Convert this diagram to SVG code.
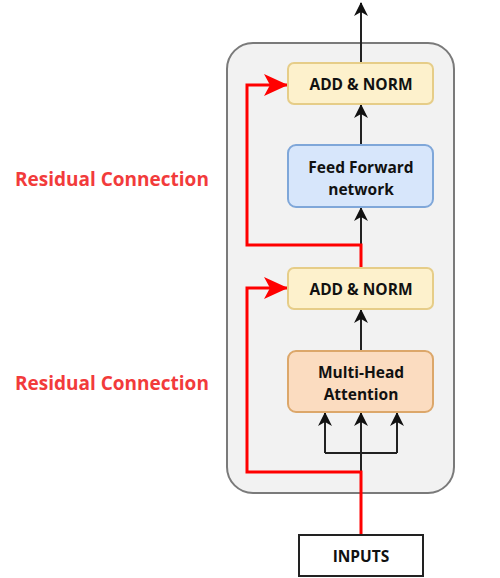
<svg xmlns="http://www.w3.org/2000/svg" width="500" height="578" viewBox="0 0 500 578">
  <style>
    .lbl { font-family: "Open Sans", "Liberation Sans", sans-serif; font-weight: 700; font-size: 15.5px; text-anchor: middle; fill: #111; }
    .res { font-family: "Open Sans", "Liberation Sans", sans-serif; font-weight: 700; font-size: 19px; fill: #f23b3b; }
    .blk { fill: none; stroke: #222; stroke-width: 2; }
    .red { fill: none; stroke: #ff0000; stroke-width: 3; }
  </style>
  <defs>
    <marker id="ah" viewBox="0 0 14 14" refX="13" refY="7" markerWidth="14" markerHeight="14" markerUnits="userSpaceOnUse" orient="auto">
      <path d="M0,0 L14,7 L0,14 L4,7 Z" fill="#111"/>
    </marker>
    <marker id="ahr" viewBox="0 0 24 24" refX="23" refY="12" markerWidth="24" markerHeight="24" markerUnits="userSpaceOnUse" orient="auto">
      <path d="M0,1 L24,12 L0,23 L6,12 Z" fill="#ff0000"/>
    </marker>
  </defs>

  <rect width="500" height="578" fill="#ffffff"/>

  <!-- encoder block container -->
  <rect id="block" x="227" y="43" width="227" height="450" rx="26" fill="#f2f2f2" stroke="#7a7a7a" stroke-width="2"/>

  <g id="connectors">
    <!-- main data path -->
    <line class="blk" x1="361" y1="63" x2="361" y2="3" marker-end="url(#ah)"/>
    <line class="blk" x1="361" y1="145" x2="361" y2="105" marker-end="url(#ah)"/>
    <line class="blk" x1="361" y1="245" x2="361" y2="208" marker-end="url(#ah)"/>
    <line class="blk" x1="361" y1="351" x2="361" y2="310" marker-end="url(#ah)"/>
    <!-- fan-out into attention (Q, K, V) -->
    <line class="blk" x1="361" y1="472" x2="361" y2="453"/>
    <line class="blk" x1="325" y1="453" x2="397" y2="453"/>
    <line class="blk" x1="325" y1="453" x2="325" y2="413" marker-end="url(#ah)"/>
    <line class="blk" x1="361" y1="453" x2="361" y2="413" marker-end="url(#ah)"/>
    <line class="blk" x1="397" y1="453" x2="397" y2="413" marker-end="url(#ah)"/>
    <!-- residual paths -->
    <polyline class="red" points="361,535 361,472 247,472 247,288 287,288" marker-end="url(#ahr)"/>
    <polyline class="red" points="361,268 361,245 247,245 247,85 287,85" marker-end="url(#ahr)"/>
  </g>

  <g id="add-norm-top">
    <rect x="288" y="63" width="145" height="41" rx="6" fill="#fdf1cc" stroke="#e6cd88" stroke-width="2"/>
    <text class="lbl" x="361" y="90">ADD &amp; NORM</text>
  </g>

  <g id="feed-forward">
    <rect x="288" y="145" width="145" height="62" rx="8" fill="#d7e6fb" stroke="#7fa7d9" stroke-width="2"/>
    <text class="lbl" x="361" y="173">Feed Forward</text>
    <text class="lbl" x="361" y="195">network</text>
  </g>

  <g id="add-norm-bottom">
    <rect x="288" y="268" width="145" height="41" rx="6" fill="#fdf1cc" stroke="#e6cd88" stroke-width="2"/>
    <text class="lbl" x="361" y="295">ADD &amp; NORM</text>
  </g>

  <g id="multi-head-attention">
    <rect x="288" y="351" width="145" height="61" rx="8" fill="#fbdcc0" stroke="#dca76a" stroke-width="2"/>
    <text class="lbl" x="361" y="378">Multi-Head</text>
    <text class="lbl" x="361" y="400">Attention</text>
  </g>

  <g id="inputs">
    <rect x="299" y="535" width="124" height="41" fill="#ffffff" stroke="#222" stroke-width="2"/>
    <text class="lbl" x="361" y="562">INPUTS</text>
  </g>

  <g id="residual-labels">
    <text class="res" x="15" y="186">Residual Connection</text>
    <text class="res" x="15" y="390">Residual Connection</text>
  </g>
</svg>
